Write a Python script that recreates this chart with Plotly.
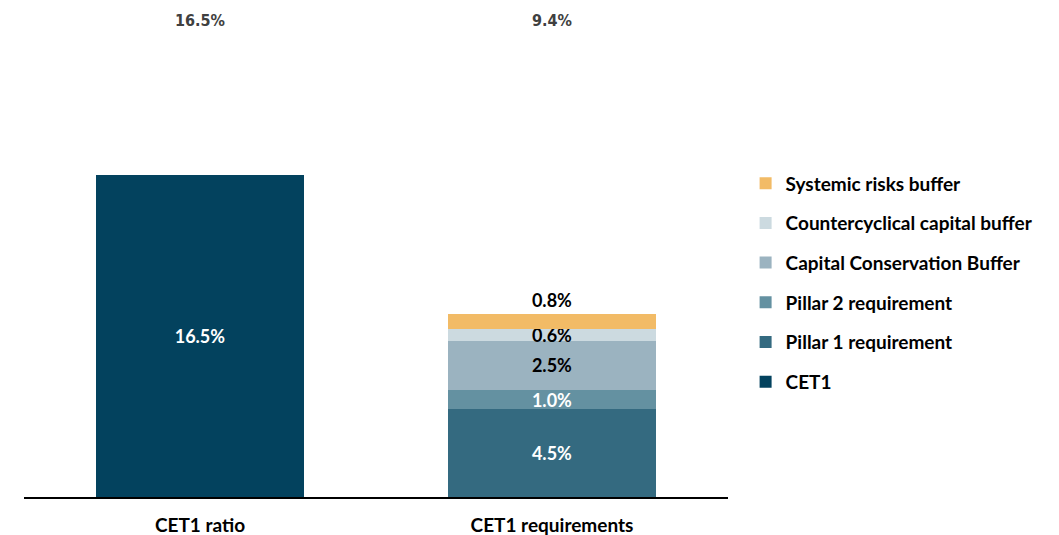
import plotly.graph_objects as go

# CET1 ratio vs. requirements (%)
categories = ["CET1 ratio", "CET1 requirements"]
series_names = [
    "CET1",
    "Pillar 1 requirement",
    "Pillar 2 requirement",
    "Capital Conservation Buffer",
    "Countercyclical capital buffer",
    "Systemic risks buffer",
]
series_values = [
    [16.5, None],
    [None, 4.5],
    [None, 1.0],
    [None, 2.5],
    [None, 0.6],
    [None, 0.8],
]
totals = [16.5, 9.4]

colors = ["#03425E", "#346A80", "#6491A1", "#9BB3C0", "#CCDAE0", "#F2BB66"]
label_colors = ["white", "white", "white", "black", "black", "black"]

FONT = "Lato"

fig = go.Figure()

for i, (name, vals) in enumerate(zip(series_names, series_values)):
    last = i == len(series_names) - 1
    fig.add_trace(go.Bar(
        x=categories,
        y=vals,
        name=name,
        legendgroup=name,
        legendrank=len(series_names) - i,
        marker=dict(color=colors[i], line=dict(width=0)),
        text=[f"{v:.1f}%" if v is not None else "" for v in vals],
        textposition="outside" if last else "inside",
        insidetextanchor="middle",
        textangle=0,
        textfont=dict(family=FONT, size=18, color=label_colors[i], weight="bold"),
        cliponaxis=False,
        hoverinfo="skip",
    ))

# totals printed above the plot area
for cat, tot in zip(categories, totals):
    fig.add_annotation(
        x=cat, y=1.223, xref="x", yref="paper", yanchor="middle",
        text=f"{tot:.1f}%", showarrow=False,
        font=dict(family="DejaVu Sans Condensed", size=16, color="#404040", weight="bold"),
    )

fig.update_layout(
    barmode="stack",
    bargap=0.41,
    width=1059,
    height=535,
    margin=dict(l=16, r=339, t=99, b=46, autoexpand=False),
    paper_bgcolor="white",
    plot_bgcolor="white",
    uniformtext=dict(minsize=18, mode="show"),
    showlegend=True,
    legend=dict(
        traceorder="grouped",
        tracegroupgap=12,
        x=1.025, xanchor="left",
        y=0.853, yanchor="top",
        font=dict(family=FONT, size=19, color="black", weight="bold"),
        itemwidth=30,
        bgcolor="rgba(0,0,0,0)",
    ),
    xaxis=dict(
        showline=True, linecolor="black", linewidth=2,
        ticks="", ticklabelstandoff=10, automargin=False,
        tickfont=dict(family=FONT, size=19, color="black", weight="bold"),
    ),
    yaxis=dict(
        range=[0, 20], visible=False, showgrid=False, zeroline=False,
    ),
)

fig.write_html("out.html")
